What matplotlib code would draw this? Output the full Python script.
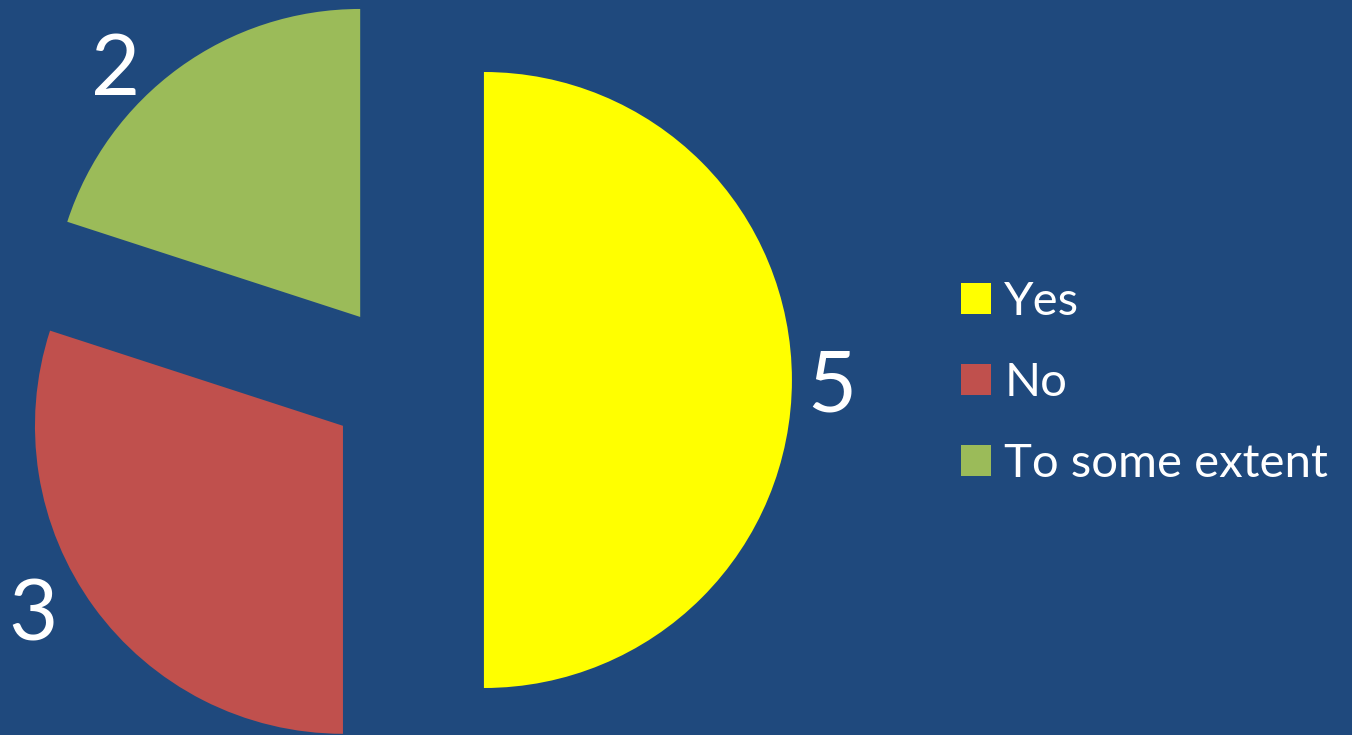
import numpy as np
import matplotlib.pyplot as plt

names = ['Yes', 'No', 'To some extent']
counts = [5, 3, 2]
colors = ['#FFFF00', '#C0504D', '#9BBB59']
bg = '#1F497D'

plt.rcParams['font.family'] = ['Lato', 'DejaVu Sans']

fig = plt.figure(figsize=(13.52, 7.35), dpi=100, facecolor=bg)
ax = fig.add_axes([0, 0, 1, 1])
ax.set_facecolor(bg)

# pie drawn in pixel-sized data units so it sits left of the legend;
# explode is in the same units (not scaled by radius)
r = 308
wedges, texts = ax.pie(counts, labels=[str(c) for c in counts], colors=colors,
                       startangle=90, counterclock=False,
                       explode=[0.253 * r] * 3, center=(406, 355), radius=r,
                       wedgeprops=dict(linewidth=0),
                       textprops=dict(color='white', fontsize=61))

# value labels: nudge each one off its wedge bisector a little
lab_dist = [1.13, 1.17, 1.145]
lab_turn = [0, -5.5, 8]
for w, t, d, turn in zip(wedges, texts, lab_dist, lab_turn):
    ang = np.deg2rad((w.theta1 + w.theta2) / 2 + turn)
    cx, cy = w.center
    t.set_position((cx + d * r * np.cos(ang), cy + d * r * np.sin(ang)))
    t.set_ha('center')
    t.set_va('center_baseline')

ax.set_xlim(0, 1352)
ax.set_ylim(0, 735)
ax.set_aspect('equal')
ax.axis('off')

leg = ax.legend(wedges, names, loc='center left', bbox_to_anchor=(0.711, 0.479),
                frameon=False, fontsize=34, labelcolor='white',
                handlelength=0.64, handleheight=0.64, handletextpad=0.27,
                labelspacing=0.83, borderpad=0, borderaxespad=0)

fig.savefig('out.png', dpi=100, facecolor=bg)
